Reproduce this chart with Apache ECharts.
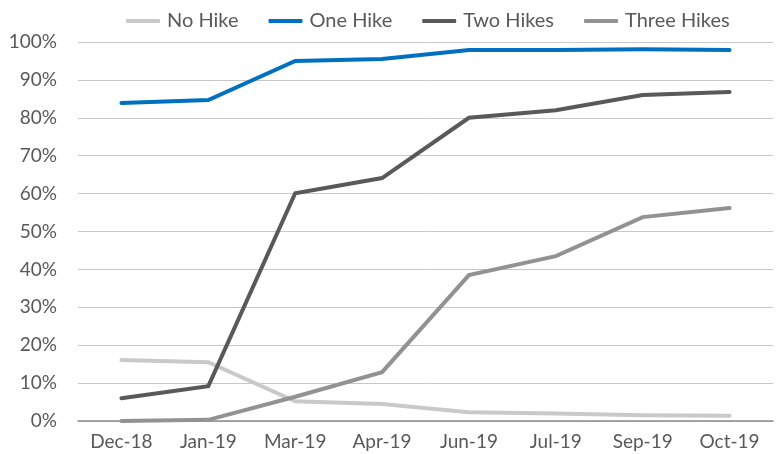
<!DOCTYPE html>
<html><head><meta charset="utf-8">
<script src="https://cdn.jsdelivr.net/npm/echarts@6/dist/echarts.min.js"></script>
<style>html,body{margin:0;padding:0;background:#fff}#c{width:778px;height:454px}</style>
</head><body><div id="c"></div>
<script>
const categories = ['Dec-18','Jan-19','Mar-19','Apr-19','Jun-19','Jul-19','Sep-19','Oct-19'];
const noHike = [16.1, 15.5, 5.2, 4.5, 2.3, 2.0, 1.5, 1.4];
const oneHike = [83.9, 84.7, 95.0, 95.5, 97.9, 97.9, 98.1, 97.9];
const twoHikes = [6.0, 9.2, 60.1, 64.1, 80.0, 82.0, 86.0, 86.8];
const threeHikes = [0.0, 0.3, 6.4, 12.9, 38.5, 43.5, 53.8, 56.2];
const yTicks = [0, 10, 20, 30, 40, 50, 60, 70, 80, 90, 100];

const font = 'Lato, "Liberation Sans", sans-serif';
const mk = (name, data, color) => ({
  name, type: 'line', data, symbol: 'none', smooth: false,
  lineStyle: {color, width: 4, cap: 'round', join: 'miter'}, itemStyle: {color}
});
const chart = echarts.init(document.getElementById('c'), null, {renderer: 'canvas'});
chart.setOption({
  animation: false,
  textStyle: {fontFamily: font},
  legend: {
    top: 6, left: 121, itemWidth: 34, itemHeight: 4, itemGap: 30,
    icon: 'roundRect',
    textStyle: {fontSize: 20, color: '#595959', fontFamily: font, padding: [0, 0, 0, 2]},
    data: ['No Hike','One Hike','Two Hikes','Three Hikes']
  },
  grid: {left: 78, right: 5, top: 42, bottom: 33},
  xAxis: {
    type: 'category', data: categories, boundaryGap: true,
    axisLine: {lineStyle: {color: '#8c8c8c', width: 1.5}},
    axisTick: {show: false},
    axisLabel: {fontSize: 19, color: '#595959', margin: 11, fontFamily: font}
  },
  yAxis: {
    type: 'value', min: 0, max: 100, interval: 10,
    axisLine: {show: false}, axisTick: {show: false},
    splitLine: {lineStyle: {color: '#c8c8c8', width: 1}},
    axisLabel: {fontSize: 19, color: '#595959', margin: 21, fontFamily: font,
      formatter: v => yTicks.includes(v) ? v + '%' : ''}
  },
  series: [
    mk('No Hike', noHike, '#c9c9c9'),
    mk('One Hike', oneHike, '#0070c0'),
    mk('Two Hikes', twoHikes, '#595959'),
    mk('Three Hikes', threeHikes, '#929292')
  ]
});
</script></body></html>
